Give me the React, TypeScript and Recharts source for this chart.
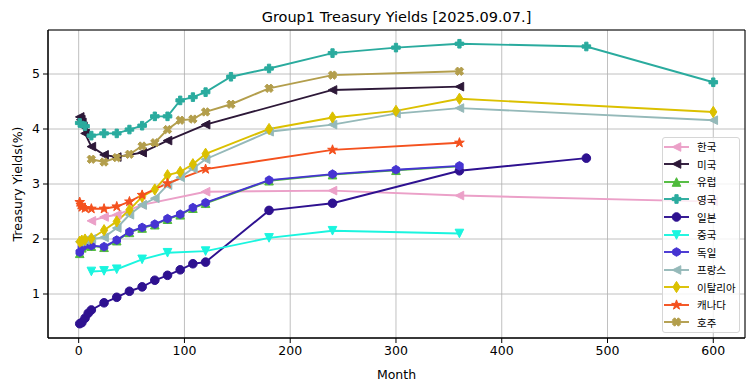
import React from "react";
import { LineChart, Line, XAxis, YAxis, CartesianGrid, ReferenceArea } from "recharts";

const FONT = "'DejaVu Sans', 'Noto Sans CJK KR', sans-serif";

const X_TICKS = [0, 100, 200, 300, 400, 500, 600];
const Y_TICKS = [1, 2, 3, 4, 5];

// months / yields per country
const KR_M = [12, 24, 36, 60, 120, 240, 360, 600];
const KR_Y = [2.33, 2.4, 2.44, 2.62, 2.86, 2.88, 2.79, 2.68];

const US_M = [1, 2, 3, 4, 6, 12, 24, 36, 60, 84, 120, 240, 360];
const US_Y = [4.22, 4.17, 4.12, 4.05, 3.92, 3.68, 3.53, 3.49, 3.57, 3.79, 4.08, 4.71, 4.77];

const EU_M = [1, 3, 6, 12, 24, 36, 48, 60, 72, 84, 96, 108, 120, 180, 240, 300, 360];
const EU_Y = [1.74, 1.84, 1.88, 1.87, 1.85, 1.97, 2.12, 2.2, 2.26, 2.36, 2.44, 2.56, 2.65, 3.06, 3.17, 3.25, 3.32];

const UK_M = [1, 6, 12, 24, 36, 48, 60, 72, 84, 96, 108, 120, 144, 180, 240, 300, 360, 480, 600];
const UK_Y = [4.11, 4.05, 3.88, 3.92, 3.92, 3.99, 4.06, 4.23, 4.23, 4.52, 4.58, 4.67, 4.95, 5.1, 5.38, 5.48, 5.55, 5.5, 4.85];

const JP_M = [1, 3, 6, 9, 12, 24, 36, 48, 60, 72, 84, 96, 108, 120, 180, 240, 360, 480];
const JP_Y = [0.46, 0.48, 0.56, 0.65, 0.71, 0.84, 0.94, 1.05, 1.13, 1.25, 1.34, 1.44, 1.55, 1.58, 2.52, 2.65, 3.24, 3.47];

const CN_M = [12, 24, 36, 60, 84, 120, 180, 240, 360];
const CN_Y = [1.41, 1.42, 1.45, 1.63, 1.75, 1.78, 2.02, 2.15, 2.1];

const DE_M = [1, 3, 6, 12, 24, 36, 48, 60, 72, 84, 96, 108, 120, 180, 240, 300, 360];
const DE_Y = [1.76, 1.85, 1.89, 1.88, 1.86, 1.98, 2.13, 2.21, 2.27, 2.37, 2.45, 2.57, 2.66, 3.07, 3.18, 3.26, 3.33];

const FR_M = [1, 3, 6, 12, 24, 36, 48, 60, 72, 84, 96, 108, 120, 180, 240, 300, 360, 600];
const FR_Y = [1.95, 1.96, 1.98, 2.0, 2.03, 2.2, 2.44, 2.62, 2.74, 2.98, 3.12, 3.28, 3.45, 3.95, 4.08, 4.28, 4.38, 4.16];

const IT_M = [1, 3, 6, 12, 24, 36, 48, 60, 72, 84, 96, 108, 120, 180, 240, 300, 360, 600];
const IT_Y = [1.95, 1.97, 1.99, 2.01, 2.16, 2.32, 2.53, 2.77, 2.9, 3.16, 3.22, 3.36, 3.55, 4.0, 4.21, 4.33, 4.55, 4.31];

const CA_M = [1, 2, 3, 6, 12, 24, 36, 48, 60, 84, 120, 240, 360];
const CA_Y = [2.67, 2.62, 2.58, 2.56, 2.55, 2.55, 2.59, 2.68, 2.8, 3.01, 3.27, 3.62, 3.75];

const AU_M = [12, 24, 36, 48, 60, 72, 84, 96, 108, 120, 144, 180, 240, 360];
const AU_Y = [3.45, 3.4, 3.48, 3.54, 3.69, 3.75, 3.99, 4.16, 4.18, 4.31, 4.45, 4.74, 4.98, 5.05];

const SERIES = [
  { name: "한국", m: KR_M, y: KR_Y, color: "#eba0c8", shape: "left" },
  { name: "미국", m: US_M, y: US_Y, color: "#2d1838", shape: "left" },
  { name: "유럽", m: EU_M, y: EU_Y, color: "#4fbb3c", shape: "up" },
  { name: "영국", m: UK_M, y: UK_Y, color: "#2aab9e", shape: "plus" },
  { name: "일본", m: JP_M, y: JP_Y, color: "#2e1190", shape: "circle" },
  { name: "중국", m: CN_M, y: CN_Y, color: "#1af5df", shape: "down" },
  { name: "독일", m: DE_M, y: DE_Y, color: "#4634d2", shape: "hex" },
  { name: "프랑스", m: FR_M, y: FR_Y, color: "#95b9b9", shape: "left" },
  { name: "이탈리아", m: IT_M, y: IT_Y, color: "#dbc000", shape: "diamond" },
  { name: "캐나다", m: CA_M, y: CA_Y, color: "#f4511e", shape: "star" },
  { name: "호주", m: AU_M, y: AU_Y, color: "#b39e4c", shape: "x" },
];

const pts = (arr: number[][]) => arr.map((p) => p.join(",")).join(" ");

function Marker({ shape, x, y, color }: { shape: string; x: number; y: number; color: string }) {
  const r = 4.3;
  const common = { fill: color, stroke: color, strokeWidth: 1 };
  if (shape === "circle") return <circle cx={x} cy={y} r={r} {...common} />;
  if (shape === "left")
    return <polygon points={pts([[x - r, y], [x + r, y - r], [x + r, y + r]])} {...common} />;
  if (shape === "up")
    return <polygon points={pts([[x, y - r], [x - r, y + r], [x + r, y + r]])} {...common} />;
  if (shape === "down")
    return <polygon points={pts([[x, y + r], [x - r, y - r], [x + r, y - r]])} {...common} />;
  if (shape === "diamond")
    return <polygon points={pts([[x, y - 5.6], [x + 3.6, y], [x, y + 5.6], [x - 3.6, y]])} {...common} />;
  if (shape === "hex") {
    const p = [0, 1, 2, 3, 4, 5].map((i) => {
      const a = (Math.PI / 3) * i - Math.PI / 2;
      return [x + r * Math.cos(a), y + r * Math.sin(a)];
    });
    return <polygon points={pts(p)} {...common} />;
  }
  if (shape === "star") {
    const p: number[][] = [];
    for (let i = 0; i < 10; i++) {
      const rr = i % 2 === 0 ? r + 0.8 : (r + 0.8) * 0.4;
      const a = (Math.PI / 5) * i - Math.PI / 2;
      p.push([x + rr * Math.cos(a), y + rr * Math.sin(a)]);
    }
    return <polygon points={pts(p)} {...common} />;
  }
  if (shape === "plus" || shape === "x") {
    const w = r * 0.38;
    const base = [
      [-w, -r], [w, -r], [w, -w], [r, -w], [r, w], [w, w],
      [w, r], [-w, r], [-w, w], [-r, w], [-r, -w], [-w, -w],
    ];
    const ang = shape === "x" ? Math.PI / 4 : 0;
    const p = base.map(([a, b]) => [
      x + a * Math.cos(ang) - b * Math.sin(ang),
      y + a * Math.sin(ang) + b * Math.cos(ang),
    ]);
    return <polygon points={pts(p)} {...common} />;
  }
  return null;
}

const YLabel = ({ viewBox }: any) => {
  const cy = viewBox.y + viewBox.height / 2;
  return (
    <text x={17} y={cy} transform={`rotate(-90, 17, ${cy})`} textAnchor="middle" dominantBaseline="central" fontSize={12.5} fill="#000" fontFamily={FONT}>
      Treasury Yields(%)
    </text>
  );
};

const XLabel = ({ viewBox }: any) => (
  <text x={viewBox.x + viewBox.width / 2} y={viewBox.y + 41} textAnchor="middle" fontSize={12.5} fill="#000" fontFamily={FONT}>
    Month
  </text>
);

const App = () => {
  return (
    <div style={{ position: "relative", width: 755, height: 391, background: "#fff", fontFamily: FONT }}>
      <style>{"body{margin:0}"}</style>
      <div style={{ position: "absolute", left: 48, width: 697, top: 9, textAlign: "center", fontSize: 14.5, color: "#000" }}>
        Group1 Treasury Yields [2025.09.07.]
      </div>
      <LineChart width={755} height={391} margin={{ top: 30, right: 10, bottom: 0, left: 0 }}>
        <CartesianGrid stroke="#b0b0b0" strokeWidth={0.8} />
        <XAxis
          type="number"
          dataKey="month"
          domain={[-29, 630]}
          ticks={X_TICKS}
          allowDataOverflow
          height={53}
          tickSize={5}
          tickMargin={3}
          stroke="#000"
          tick={{ fill: "#000", fontSize: 12.5, fontFamily: FONT }}
          label={<XLabel />}
        />
        <YAxis
          type="number"
          domain={[0.2, 5.8]}
          ticks={Y_TICKS}
          allowDataOverflow
          width={48}
          tickSize={5}
          tickMargin={3}
          stroke="#000"
          tick={{ fill: "#000", fontSize: 12.5, fontFamily: FONT }}
          label={<YLabel />}
        />
        <ReferenceArea x1={-29} x2={630} y1={0.2} y2={5.8} fill="none" stroke="#000" strokeWidth={1} ifOverflow="visible" />
        {SERIES.map((s) => (
          <Line
            key={s.name}
            data={s.m.map((mm, i) => ({ month: mm, y: s.y[i] }))}
            dataKey="y"
            type="linear"
            stroke={s.color}
            strokeWidth={1.9}
            isAnimationActive={false}
            activeDot={false}
            dot={(p: any) => <Marker key={`${s.name}-${p.index}`} shape={s.shape} x={p.cx} y={p.cy} color={s.color} />}
          />
        ))}
      </LineChart>
      <div
        style={{
          position: "absolute",
          left: 662,
          top: 137,
          width: 78,
          height: 196,
          boxSizing: "border-box",
          border: "1px solid #d6d6d6",
          borderRadius: 3,
          background: "rgba(255,255,255,0.8)",
        }}
      >
        {SERIES.map((s) => (
          <div key={s.name} style={{ display: "flex", alignItems: "center", height: 17.57 }}>
            <svg width={34} height={14} style={{ flex: "none" }}>
              <line x1={1} x2={26} y1={7} y2={7} stroke={s.color} strokeWidth={1.9} />
              <Marker shape={s.shape} x={13.5} y={7} color={s.color} />
            </svg>
            <span style={{ fontSize: 10.5, color: "#000", whiteSpace: "nowrap" }}>{s.name}</span>
          </div>
        ))}
      </div>
    </div>
  );
};

export default App;
